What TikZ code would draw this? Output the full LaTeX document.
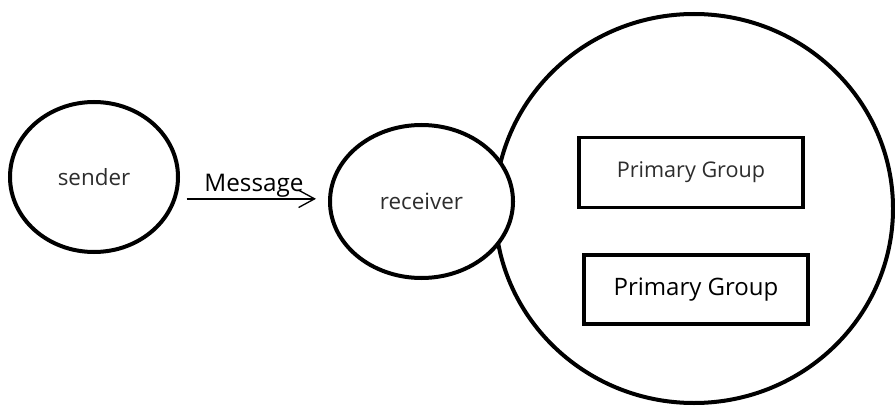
\documentclass[tikz,border=0pt]{standalone}
\usepackage{fontspec}
\setmainfont{Open Sans}
\usetikzlibrary{shapes.geometric, arrows.meta, positioning}
\definecolor{inkblack}{RGB}{0, 0, 0}
\definecolor{softtext}{RGB}{45, 45, 45}
\tikzset{
  msgarrow/.style={-{Straight Barb[length=12pt, width=13pt, line width=1pt]}, line width=1pt, inkblack}
}

\begin{document}
\begin{tikzpicture}[x=0.75pt, y=-0.75pt,
    person/.style={ellipse, draw=inkblack, line width=3pt, fill=white, inner sep=0pt, font=\fontsize{16.8}{18}\selectfont, text=softtext},
    society/.style={ellipse, draw=inkblack, line width=3pt, inner sep=0pt, minimum width=298.5pt, minimum height=291.75pt},
    groupbox/.style={rectangle, draw=inkblack, line width=2.7pt, fill=white, minimum width=168pt, minimum height=52.5pt, align=center}
]
    \useasboundingbox (0, 0) rectangle (895, 406);

    % Outer circle (social environment)
    \node[society] (env) at (694, 208.5) {};

    % Sender and receiver
    \node[person, minimum width=126pt, minimum height=112.5pt] (sender) at (94, 177) {\raisebox{-2pt}{sender}};
    \node[person, minimum width=137.25pt, minimum height=114.75pt] (receiver) at (421.5, 201.5) {\raisebox{-4pt}{receiver}};

    % Groups inside the circle
    \node[groupbox, font=\fontsize{16.2}{18}\selectfont, text=softtext] (pg1) at (691, 172.5) {Primary Group};
    \node[groupbox, minimum height=51.75pt, font=\fontsize{18}{20}\selectfont] (pg2) at (696, 289.5) {\raisebox{4pt}{Primary Group}};

    % Message arrow
    \draw[msgarrow, shorten <=5pt, shorten >=9pt] ([yshift=2pt]sender.east |- receiver.west) -- ([yshift=2pt]receiver.west)
        node[midway, above, inner sep=1pt, font=\fontsize{18.2}{20}\selectfont] (msg) {Message};
\end{tikzpicture}
\end{document}
